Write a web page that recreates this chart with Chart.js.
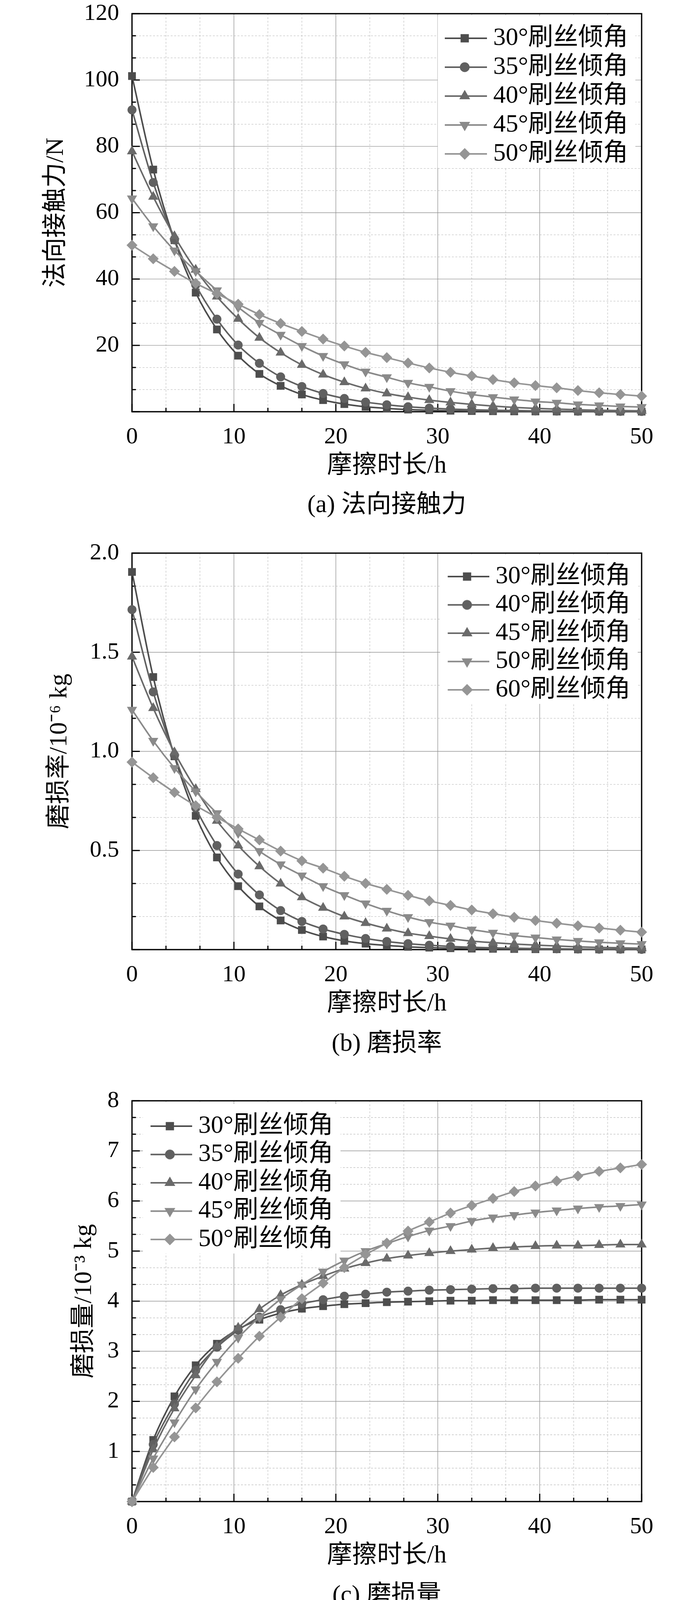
<!DOCTYPE html>
<html>
<head>
<meta charset="utf-8">
<script src="https://cdn.jsdelivr.net/npm/chart.js@4.4.1/dist/chart.umd.min.js"></script>
<style>
  html, body { margin: 0; padding: 0; background: #fff; }
  body { width: 1772px; height: 4122px; position: relative; overflow: hidden; }
  canvas { position: absolute; left: 0; }
  .cap {
    position: absolute; left: 338px; width: 1305px; text-align: center;
    font-size: 64px; line-height: 64px; color: #000;
    font-family: "Liberation Serif", "Noto Sans CJK SC", serif;
  }
</style>
</head>
<body>
<canvas id="force" width="1772" height="1260" style="top:-26px;width:1772px;height:1260px"></canvas>
<div class="cap" style="top:1258px">(a) 法向接触力</div>
<canvas id="rate" width="1772" height="1256" style="top:1355px;width:1772px;height:1256px"></canvas>
<div class="cap" style="top:2637px">(b) 磨损率</div>
<canvas id="mass" width="1772" height="1267" style="top:2757px;width:1772px;height:1267px"></canvas>
<div class="cap" style="top:4049px">(c) 磨损量</div>

<script>
// ---- data ----
const hours = [0, 2.083, 4.167, 6.25, 8.333, 10.417, 12.5, 14.583, 16.667, 18.75, 20.833, 22.917, 25,
  27.083, 29.167, 31.25, 33.333, 35.417, 37.5, 39.583, 41.667, 43.75, 45.833, 47.917, 50];
const hourTicks = [0, 10, 20, 30, 40, 50];

// (a) normal contact force, N
const forceNames = ['30°刷丝倾角', '35°刷丝倾角', '40°刷丝倾角', '45°刷丝倾角', '50°刷丝倾角'];
const force30 = [101.2, 73.0, 51.7, 35.9, 24.8, 16.9, 11.4, 7.8, 5.2, 3.5, 2.3, 1.5, 1.0, 0.65, 0.45, 0.3, 0.2, 0.15, 0.1, 0.08, 0.06, 0.05, 0.04, 0.03, 0.03];
const force35 = [91.0, 69.1, 51.8, 38.2, 27.9, 20.1, 14.6, 10.5, 7.6, 5.5, 4.0, 2.9, 2.1, 1.5, 1.1, 0.8, 0.6, 0.45, 0.35, 0.25, 0.2, 0.15, 0.12, 0.1, 0.08];
const force40 = [78.5, 64.8, 52.9, 42.8, 34.7, 28.0, 22.3, 17.8, 14.1, 11.2, 8.9, 7.0, 5.5, 4.4, 3.5, 2.8, 2.2, 1.7, 1.3, 1.0, 0.8, 0.6, 0.45, 0.35, 0.28];
const force45 = [64.3, 55.9, 48.6, 42.4, 36.6, 31.5, 26.8, 23.2, 19.8, 16.8, 14.3, 12.1, 10.4, 8.7, 7.5, 6.2, 5.2, 4.4, 3.7, 3.1, 2.7, 2.2, 1.9, 1.6, 1.4];
const force50 = [50.2, 46.1, 42.3, 38.7, 35.6, 32.4, 29.3, 26.6, 24.2, 21.9, 19.8, 17.9, 16.3, 14.7, 13.2, 11.9, 10.8, 9.7, 8.7, 7.9, 7.2, 6.4, 5.7, 5.2, 4.7];
const forceTicks = [0, 20, 40, 60, 80, 100, 120];

// (b) wear rate, 10^-6 kg
const rateNames = ['30°刷丝倾角', '40°刷丝倾角', '45°刷丝倾角', '50°刷丝倾角', '60°刷丝倾角'];
const rate30 = [1.905, 1.375, 0.975, 0.675, 0.465, 0.32, 0.218, 0.147, 0.099, 0.066, 0.044, 0.03, 0.021, 0.014, 0.01, 0.007, 0.005, 0.004, 0.003, 0.002, 0.002, 0.001, 0.001, 0.001, 0.001];
const rate40 = [1.715, 1.30, 0.98, 0.715, 0.525, 0.381, 0.276, 0.197, 0.142, 0.104, 0.077, 0.056, 0.041, 0.030, 0.022, 0.016, 0.012, 0.009, 0.007, 0.005, 0.004, 0.003, 0.002, 0.002, 0.001];
const rate45 = [1.478, 1.218, 0.995, 0.81, 0.65, 0.525, 0.42, 0.333, 0.264, 0.211, 0.167, 0.134, 0.106, 0.083, 0.068, 0.054, 0.043, 0.035, 0.028, 0.023, 0.018, 0.014, 0.011, 0.009, 0.007];
const rate50 = [1.21, 1.053, 0.916, 0.798, 0.688, 0.588, 0.497, 0.43, 0.374, 0.32, 0.275, 0.233, 0.196, 0.164, 0.139, 0.121, 0.101, 0.085, 0.071, 0.061, 0.051, 0.044, 0.037, 0.032, 0.028];
const rate60 = [0.946, 0.867, 0.793, 0.726, 0.667, 0.609, 0.553, 0.497, 0.448, 0.411, 0.37, 0.334, 0.304, 0.274, 0.246, 0.223, 0.2, 0.181, 0.163, 0.147, 0.133, 0.12, 0.109, 0.098, 0.088];
const rateTicks = [0, 0.5, 1.0, 1.5, 2.0];

// (c) wear amount, 10^-3 kg
const massNames = ['30°刷丝倾角', '35°刷丝倾角', '40°刷丝倾角', '45°刷丝倾角', '50°刷丝倾角'];
const mass30 = [0, 1.23, 2.1, 2.72, 3.15, 3.44, 3.63, 3.76, 3.85, 3.9, 3.94, 3.96, 3.98, 3.99, 4.0, 4.01, 4.01, 4.02, 4.02, 4.02, 4.02, 4.02, 4.03, 4.03, 4.03];
const mass35 = [0, 1.14, 1.95, 2.62, 3.08, 3.42, 3.68, 3.83, 3.95, 4.03, 4.1, 4.14, 4.18, 4.2, 4.22, 4.23, 4.24, 4.25, 4.25, 4.26, 4.26, 4.26, 4.26, 4.26, 4.26];
const mass40 = [0, 1.04, 1.86, 2.52, 3.1, 3.47, 3.84, 4.12, 4.33, 4.5, 4.65, 4.76, 4.85, 4.91, 4.96, 5.0, 5.03, 5.06, 5.08, 5.1, 5.11, 5.11, 5.12, 5.13, 5.13];
const mass45 = [0, 0.86, 1.58, 2.24, 2.79, 3.27, 3.68, 4.04, 4.33, 4.59, 4.81, 5.0, 5.15, 5.29, 5.41, 5.5, 5.6, 5.67, 5.72, 5.77, 5.81, 5.85, 5.88, 5.9, 5.93];
const mass50 = [0, 0.68, 1.29, 1.87, 2.39, 2.86, 3.3, 3.68, 4.05, 4.36, 4.67, 4.93, 5.16, 5.4, 5.58, 5.76, 5.91, 6.05, 6.19, 6.3, 6.4, 6.5, 6.59, 6.66, 6.73];
const massTicks = [0, 1, 2, 3, 4, 5, 6, 7, 8];

// ---- styling ----
const FONT = '"Liberation Serif", "Noto Sans CJK SC", serif';
const colors = ['#4d4d4d', '#606060', '#6a6a6a', '#8a8a8a', '#959595'];
const markers = [
  { style: 'rect', rotation: 0, radius: 14 },
  { style: 'circle', rotation: 0, radius: 11.5 },
  { style: 'triangle', rotation: 0, radius: 15 },
  { style: 'triangle', rotation: 180, radius: 15 },
  { style: 'rectRot', rotation: 0, radius: 14 }
];

Chart.defaults.font.family = FONT;
Chart.defaults.color = '#000';

function makeIcon(color, m) {
  const c = document.createElement('canvas');
  c.width = 114; c.height = 40;
  const g = c.getContext('2d');
  g.strokeStyle = color; g.lineWidth = 4;
  g.beginPath(); g.moveTo(0, 20); g.lineTo(114, 20); g.stroke();
  g.fillStyle = color;
  Chart.helpers.drawPoint(g, { pointStyle: m.style, rotation: m.rotation, radius: m.radius + 1, borderWidth: 0 }, 57, 20);
  return c;
}

// inner values between major ticks (two minor ticks per interval)
function minorsOf(ticks) {
  const out = [];
  for (let i = 0; i < ticks.length - 1; i++) {
    const d = (ticks[i + 1] - ticks[i]) / 3;
    out.push(ticks[i] + d, ticks[i] + 2 * d);
  }
  return out;
}

const framePlugin = {
  id: 'frame',
  beforeDraw(chart, args, o) {
    const { ctx, chartArea: a, scales: { x, y } } = chart;
    ctx.save();
    ctx.fillStyle = '#fff';
    ctx.fillRect(0, 0, chart.width, chart.height);
    const vline = v => { const p = x.getPixelForValue(v); ctx.beginPath(); ctx.moveTo(p, a.top); ctx.lineTo(p, a.bottom); ctx.stroke(); };
    const hline = v => { const p = y.getPixelForValue(v); ctx.beginPath(); ctx.moveTo(a.left, p); ctx.lineTo(a.right, p); ctx.stroke(); };
    ctx.strokeStyle = '#c4c4c4'; ctx.lineWidth = 1.3; ctx.setLineDash([5, 4]);
    minorsOf(o.xTicks).forEach(vline);
    minorsOf(o.yTicks).forEach(hline);
    ctx.setLineDash([]); ctx.strokeStyle = '#959595'; ctx.lineWidth = 1.4;
    o.xTicks.slice(1, -1).forEach(vline);
    o.yTicks.slice(1, -1).forEach(hline);
    // white patch behind the legend
    const lg = o.legend;
    const top = Math.max(a.top + 4, a.top + lg.dy - 57);
    const bottom = a.top + lg.dy + 4 * lg.step + 36;
    ctx.fillStyle = '#fff';
    ctx.fillRect(lg.x - 12, top, 506, bottom - top);
    ctx.restore();
  },
  afterLayout(chart, args, o) {
    const lgd = chart.legend, a = chart.chartArea, lg = o.legend;
    const pad = lg.step - 64;
    lgd.left = lg.x + 16 - pad;
    lgd.top = a.top + lg.dy - pad - 32;
    lgd.right = lgd.left + 620;
    lgd.bottom = lgd.top + 5 * lg.step + 80;
    lgd.width = lgd.right - lgd.left;
    lgd.height = lgd.bottom - lgd.top;
  },
  beforeDatasetsDraw(chart, args, o) {
    const { ctx, chartArea: a, scales: { x, y } } = chart;
    ctx.save();
    ctx.strokeStyle = '#000';
    ctx.lineWidth = 3;
    const tickX = (v, len) => { const p = x.getPixelForValue(v); ctx.beginPath(); ctx.moveTo(p, a.bottom); ctx.lineTo(p, a.bottom - len); ctx.stroke(); };
    const tickY = (v, len) => { const p = y.getPixelForValue(v); ctx.beginPath(); ctx.moveTo(a.left, p); ctx.lineTo(a.left + len, p); ctx.stroke(); };
    o.xTicks.forEach(v => tickX(v, 20));
    minorsOf(o.xTicks).forEach(v => tickX(v, 10));
    o.yTicks.forEach(v => tickY(v, 20));
    minorsOf(o.yTicks).forEach(v => tickY(v, 10));
    ctx.lineWidth = 3.3;
    ctx.strokeRect(a.left, a.top, a.right - a.left, a.bottom - a.top);
    ctx.restore();
  }
};

function makeChart(id, names, series, yTicks, yLabel, yTitle, titlePad, legendPos) {
  const icons = names.map((n, i) => makeIcon(colors[i], markers[i]));
  const datasets = series.map((vals, i) => ({
    label: names[i],
    data: hours.map((h, k) => ({ x: h, y: vals[k] })),
    borderColor: colors[i],
    backgroundColor: colors[i],
    pointBackgroundColor: colors[i],
    borderWidth: 4,
    pointStyle: markers[i].style,
    pointRotation: markers[i].rotation,
    pointRadius: markers[i].radius,
    pointBorderWidth: 0,
    cubicInterpolationMode: 'monotone',
    clip: false,
    order: series.length - i
  }));
  return new Chart(document.getElementById(id), {
    type: 'line',
    data: { datasets },
    plugins: [framePlugin],
    options: {
      responsive: false,
      devicePixelRatio: 1,
      animation: false,
      events: [],
      layout: { padding: { left: 0, right: 129, top: 60, bottom: 0 } },
      scales: {
        x: {
          type: 'linear',
          min: hourTicks[0], max: hourTicks[hourTicks.length - 1],
          afterBuildTicks: s => { s.ticks = hourTicks.map(v => ({ value: v })); },
          afterFit: s => { s.height = 180; },
          grid: { display: false },
          border: { display: false },
          ticks: { font: { size: 60 }, color: '#000', padding: 21, maxRotation: 0, callback: v => String(v) },
          title: { display: true, text: '摩擦时长/h', font: { size: 64 }, color: '#000', padding: { top: 0, bottom: 2 } }
        },
        y: {
          type: 'linear',
          min: yTicks[0], max: yTicks[yTicks.length - 1],
          afterBuildTicks: s => { s.ticks = yTicks.map(v => ({ value: v })); },
          afterFit: s => { s.width = 338; },
          grid: { display: false },
          border: { display: false },
          ticks: { font: { size: 60 }, color: '#000', padding: 25, callback: yLabel },
          title: { display: true, text: yTitle, font: { size: 64 }, color: '#000', padding: { top: titlePad, bottom: 0 } }
        }
      },
      plugins: {
        tooltip: { enabled: false },
        legend: {
          position: 'chartArea',
          align: 'start',
          labels: {
            usePointStyle: true,
            pointStyleWidth: 82,
            padding: legendPos.step - 64,
            color: '#000',
            font: { size: 64 },
            generateLabels: chart => chart.data.datasets.map((ds, i) => ({
              text: ds.label, pointStyle: icons[i], fillStyle: colors[i], strokeStyle: colors[i],
              lineWidth: 0, hidden: false, datasetIndex: i, fontColor: '#000'
            }))
          }
        },
        frame: { xTicks: hourTicks, yTicks: yTicks, legend: legendPos }
      }
    }
  });
}

makeChart('force', forceNames, [force30, force35, force40, force45, force50], forceTicks,
  v => (v === 0 ? '' : String(v)), '法向接触力/N', 106,
  { x: 1133, dy: 63, step: 74 });

makeChart('rate', rateNames, [rate30, rate40, rate45, rate50, rate60], rateTicks,
  v => (v === 0 ? '' : v.toFixed(1)), '磨损率/10⁻⁶ kg', 115,
  { x: 1139, dy: 60, step: 72.5 });

makeChart('mass', massNames, [mass30, mass35, mass40, mass45, mass50], massTicks,
  v => (v === 0 ? '' : String(v)), '磨损量/10⁻³ kg', 178,
  { x: 378, dy: 65, step: 72.5 });
</script>
</body>
</html>
